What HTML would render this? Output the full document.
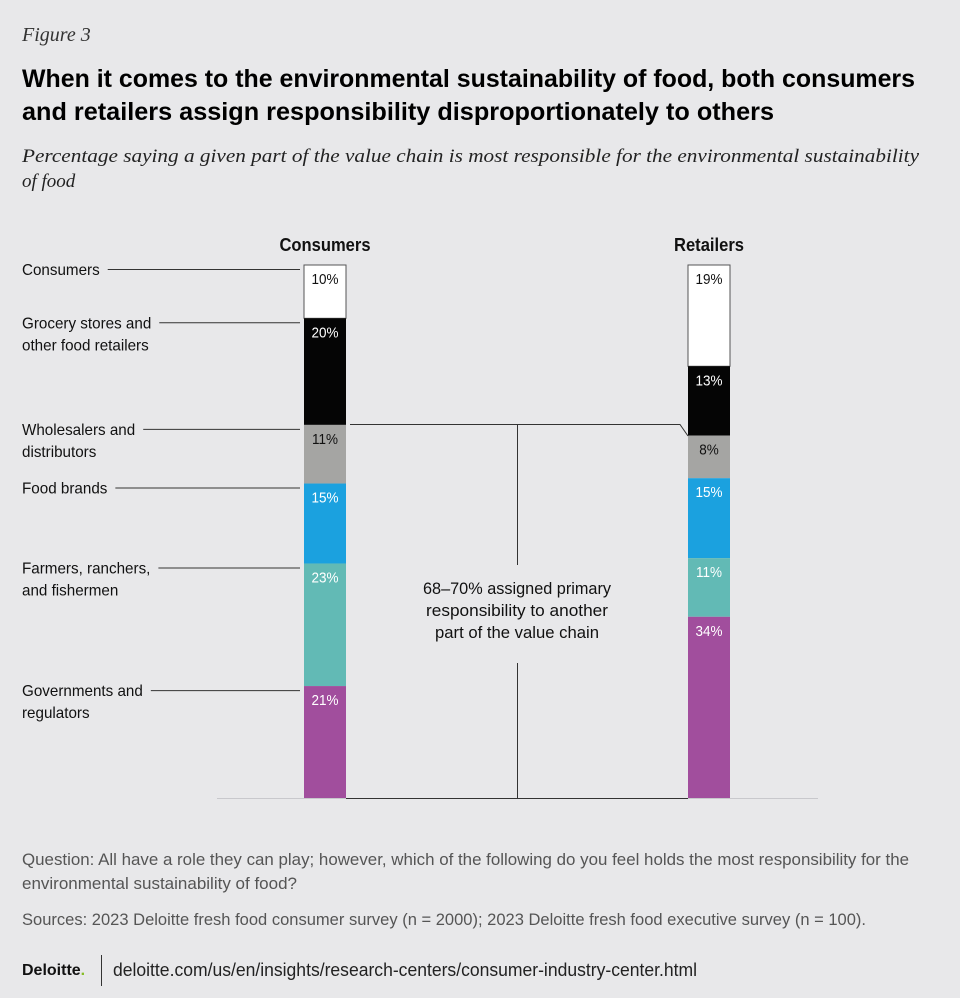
<!DOCTYPE html>
<html><head><meta charset="utf-8"><style>
body{margin:0;background:#e8e8ea;}
svg{display:block;}
.n{font-family:"Liberation Sans Narrow","Liberation Sans",sans-serif;}
</style></head><body>
<svg id="chart" width="960" height="998" viewBox="0 0 960 998">
<rect width="960" height="998" fill="#e8e8ea"/>
<text x="22" y="41" font-family="Liberation Serif,serif" font-style="italic" font-size="20" fill="#333">Figure 3</text>
<text x="22" y="87" font-family="Liberation Sans,sans-serif" font-weight="bold" font-size="25" fill="#000" textLength="893" lengthAdjust="spacingAndGlyphs">When it comes to the environmental sustainability of food, both consumers</text>
<text x="22" y="120" font-family="Liberation Sans,sans-serif" font-weight="bold" font-size="25" fill="#000" textLength="752" lengthAdjust="spacingAndGlyphs">and retailers assign responsibility disproportionately to others</text>
<text x="22" y="162" font-family="Liberation Serif,serif" font-style="italic" font-size="19" fill="#222" textLength="897" lengthAdjust="spacingAndGlyphs">Percentage saying a given part of the value chain is most responsible for the environmental sustainability</text>
<text x="22" y="187" font-family="Liberation Serif,serif" font-style="italic" font-size="19" fill="#222">of food</text>
<line x1="217" y1="798.5" x2="818" y2="798.5" stroke="#c8c8cc" stroke-width="1"/>
<g id="bars"></g>
<path d="M350 424.5 H680 L688 436" fill="none" stroke="#333" stroke-width="1"/>
<line x1="346" y1="798.5" x2="688" y2="798.5" stroke="#333"/>
<line x1="517.5" y1="424" x2="517.5" y2="565" stroke="#333"/>
<line x1="517.5" y1="663" x2="517.5" y2="798" stroke="#333"/>
<g class="n" font-size="17" fill="#111" text-anchor="middle">
<text x="517" y="594" textLength="188" lengthAdjust="spacingAndGlyphs">68–70% assigned primary</text>
<text x="517" y="616" textLength="182" lengthAdjust="spacingAndGlyphs">responsibility to another</text>
<text x="517" y="638" textLength="164" lengthAdjust="spacingAndGlyphs">part of the value chain</text>
</g>
<g class="n" font-size="17" fill="#555">
<text x="22" y="865" textLength="887" lengthAdjust="spacingAndGlyphs">Question: All have a role they can play; however, which of the following do you feel holds the most responsibility for the</text>
<text x="22" y="889">environmental sustainability of food?</text>
<text x="22" y="925" textLength="844" lengthAdjust="spacingAndGlyphs">Sources: 2023 Deloitte fresh food consumer survey (n = 2000); 2023 Deloitte fresh food executive survey (n = 100).</text>
</g>
<text x="22" y="975" font-family="Liberation Sans,sans-serif" font-weight="bold" font-size="16" fill="#111">Deloitte<tspan fill="#86bc25">.</tspan></text>
<line x1="101.5" y1="955" x2="101.5" y2="986" stroke="#333"/>
<text x="113" y="976" class="n" font-size="18" fill="#222" textLength="584" lengthAdjust="spacingAndGlyphs">deloitte.com/us/en/insights/research-centers/consumer-industry-center.html</text>
</svg>
<script>
const categories=["Consumers","Grocery stores and other food retailers","Wholesalers and distributors","Food brands","Farmers, ranchers, and fishermen","Governments and regulators"];
const groups=["Consumers","Retailers"];
const consumerValues=[10,20,11,15,23,21];
const retailerValues=[19,13,8,15,11,34];
const colors=["#ffffff","#050505","#a5a5a3","#1ba1df","#62bab5","#a14e9d"];
const labelLines=[["Consumers"],["Grocery stores and","other food retailers"],["Wholesalers and","distributors"],["Food brands"],["Farmers, ranchers,","and fishermen"],["Governments and","regulators"]];
const NS="http://www.w3.org/2000/svg";
const top0=265,bot0=798,barW=42;
const xPos=[304,688];
function yScale(p){return top0+(bot0-top0)*p/100;}
const g=document.getElementById('bars');
function mk(t,a){const e=document.createElementNS(NS,t);for(const k in a)e.setAttribute(k,a[k]);return e;}
[consumerValues,retailerValues].forEach((vals,gi)=>{
  const x=xPos[gi];let cum=0;
  const h=mk('text',{x:x+barW/2,y:251,'text-anchor':'middle','font-weight':'bold','font-size':18,fill:'#111',class:'n'});
  
  
  h.textContent=groups[gi];g.appendChild(h);
  h.setAttribute('textLength',(h.getComputedTextLength()*0.92).toFixed(1));
  h.setAttribute('lengthAdjust','spacingAndGlyphs');
  vals.forEach((v,i)=>{
    const y0=yScale(cum),y1=yScale(cum+v);cum+=v;
    const r=mk('rect',{x:x,y:y0,width:barW,height:y1-y0,fill:colors[i]});
    if(i===0){r.setAttribute('stroke','#555');r.setAttribute('stroke-width','1');}
    
    
    g.appendChild(r);
    const t=mk('text',{x:x+barW/2,y:y0+19,'text-anchor':'middle','font-size':15,class:'n',fill:(i===0||i===2)?'#111':'#fff'});
    
    
    t.textContent=v+'%';g.appendChild(t);
    t.setAttribute('textLength',(t.getComputedTextLength()*0.9).toFixed(1));
    t.setAttribute('lengthAdjust','spacingAndGlyphs');
    if(gi===0){
      const ly=y0+10;
      let w=0;
      labelLines[i].forEach((ln,j)=>{
        const lt=mk('text',{x:22,y:ly+j*22,'font-size':16,class:'n',fill:'#111'});
        
        
        lt.textContent=ln;g.appendChild(lt);
        const len=lt.getComputedTextLength()*0.95;
        lt.setAttribute('textLength',len.toFixed(1));
        lt.setAttribute('lengthAdjust','spacingAndGlyphs');
        if(j===0)w=22+len;
      });
      const l=mk('line',{x1:w+8,y1:ly-5.5,x2:x-4,y2:ly-5.5,stroke:'#333'});
      
      
      g.appendChild(l);
    }
  });
});
</script>
</body></html>
